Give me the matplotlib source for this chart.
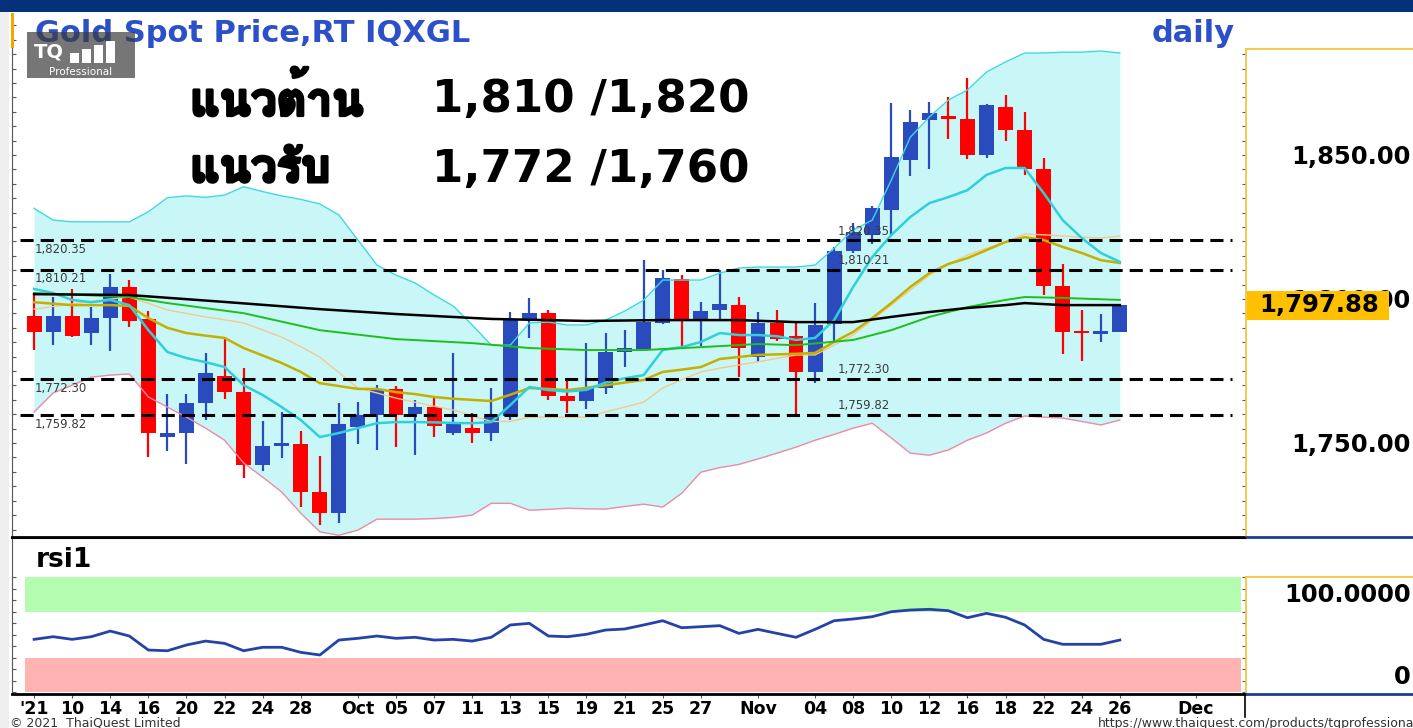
import numpy as np
import matplotlib
matplotlib.use("Agg")
import matplotlib.pyplot as plt
import matplotlib.patheffects as pe
from matplotlib import font_manager
from matplotlib.ft2font import FT2Font
from matplotlib.patches import Rectangle
from matplotlib.lines import Line2D

W, H = 1413, 728

# ---------- donnees (8 sep -> 26 nov 2021) ----------
opens = [1794.2, 1788.7, 1794.2, 1788.1, 1793.3, 1804.1, 1793.1, 1752.2, 1753.4, 1764.0,
         1773.4, 1767.8, 1742.4, 1749.2, 1749.7, 1733.1, 1725.9, 1755.7, 1759.7, 1768.8,
         1760.0, 1762.6, 1753.4, 1755.4, 1753.6, 1759.5, 1793.1, 1795.0, 1766.4, 1764.6,
         1769.2, 1781.7, 1782.6, 1791.6, 1806.8, 1792.7, 1796.2, 1797.9, 1780.0, 1791.8,
         1787.3, 1774.8, 1791.3, 1816.8, 1822.2, 1830.9, 1848.3, 1862.2, 1863.5, 1862.5,
         1850.0, 1866.6, 1858.7, 1845.0, 1804.5, 1788.9, 1788.1, 1788.4]
highs = [1802.0, 1800.6, 1803.6, 1797.3, 1808.6, 1806.6, 1796.0, 1767.2, 1766.9, 1781.4,
         1786.9, 1776.0, 1757.5, 1760.8, 1754.3, 1745.5, 1764.0, 1764.2, 1770.1, 1769.9,
         1764.9, 1766.3, 1781.1, 1760.5, 1769.0, 1795.6, 1800.2, 1796.2, 1771.9, 1784.8,
         1788.1, 1789.2, 1813.5, 1810.1, 1808.3, 1799.1, 1810.1, 1800.8, 1795.6, 1796.2,
         1792.1, 1798.5, 1817.9, 1826.3, 1832.4, 1868.2, 1865.6, 1868.4, 1870.0, 1876.9,
         1867.6, 1870.8, 1865.1, 1848.8, 1812.0, 1796.2, 1794.8, 1797.88]
lows = [1782.3, 1783.9, 1786.9, 1784.1, 1782.1, 1790.2, 1745.3, 1747.3, 1742.6, 1758.0,
        1765.2, 1738.0, 1740.4, 1744.7, 1727.7, 1721.5, 1722.1, 1749.7, 1747.6, 1748.5,
        1745.8, 1752.0, 1752.8, 1750.1, 1750.7, 1758.0, 1786.6, 1764.9, 1760.3, 1761.7,
        1766.9, 1776.5, 1782.6, 1791.3, 1782.5, 1783.7, 1792.7, 1772.8, 1778.2, 1785.5,
        1759.1, 1770.7, 1785.2, 1815.9, 1819.1, 1822.2, 1842.7, 1845.0, 1855.6, 1848.5,
        1848.8, 1855.0, 1843.1, 1801.4, 1780.9, 1778.6, 1785.2, 1788.4]
closes = [1788.7, 1794.2, 1787.3, 1793.4, 1804.1, 1792.5, 1753.4, 1753.4, 1764.0, 1774.2,
          1767.8, 1742.4, 1749.1, 1749.7, 1733.1, 1725.9, 1756.6, 1759.7, 1768.8, 1759.7,
          1762.6, 1756.0, 1756.6, 1753.6, 1759.5, 1792.7, 1795.3, 1766.4, 1764.6, 1769.2,
          1781.5, 1782.9, 1792.1, 1807.4, 1792.7, 1795.8, 1798.3, 1782.9, 1791.6, 1786.3,
          1774.8, 1791.0, 1816.8, 1823.4, 1831.5, 1849.2, 1861.5, 1864.7, 1862.6, 1850.0,
          1867.2, 1858.7, 1845.0, 1804.5, 1788.7, 1788.3, 1788.5, 1797.88]

bb_upper = [1831.5, 1827.4, 1826.8, 1826.8, 1826.8, 1826.8, 1830.3, 1835.2, 1835.8, 1835.3,
            1836.1, 1839.0, 1837.3, 1835.8, 1834.6, 1833.0, 1829.2, 1820.5, 1811.8, 1808.3,
            1805.6, 1801.4, 1797.6, 1791.0, 1784.0, 1784.0, 1791.7, 1792.0, 1791.0, 1791.0,
            1792.7, 1795.8, 1799.6, 1806.6, 1806.6, 1806.6, 1809.0, 1810.8, 1811.1, 1811.1,
            1811.1, 1811.8, 1817.7, 1823.9, 1827.4, 1841.3, 1856.2, 1863.2, 1869.1, 1872.6,
            1878.8, 1882.3, 1885.4, 1885.4, 1885.7, 1885.7, 1886.1, 1885.4]
bb_lower = [1760.8, 1767.4, 1770.1, 1772.9, 1773.6, 1774.0, 1766.0, 1762.5, 1759.0, 1755.2,
            1751.0, 1743.1, 1738.2, 1733.0, 1725.7, 1719.2, 1718.0, 1719.8, 1723.6, 1723.6,
            1723.6, 1723.8, 1724.2, 1725.0, 1729.1, 1729.1, 1726.7, 1727.0, 1727.4, 1727.2,
            1727.1, 1728.0, 1728.8, 1727.8, 1732.6, 1739.9, 1741.5, 1742.6, 1744.5, 1746.5,
            1748.6, 1751.0, 1753.0, 1755.2, 1756.9, 1751.8, 1746.5, 1745.8, 1747.6, 1751.0,
            1753.5, 1756.9, 1759.4, 1759.0, 1758.7, 1757.5, 1756.3, 1758.0]
ma_cyan = [1803.5, 1802.1, 1799.7, 1798.9, 1799.7, 1797.9, 1789.2, 1781.6, 1779.5, 1778.1,
           1776.4, 1770.1, 1766.7, 1762.5, 1758.0, 1752.1, 1753.5, 1755.2, 1756.9, 1757.3,
           1757.3, 1757.2, 1757.0, 1756.9, 1757.3, 1763.2, 1769.5, 1768.4, 1767.9, 1768.5,
           1771.0, 1772.5, 1773.6, 1782.3, 1783.3, 1785.1, 1788.2, 1787.5, 1787.5, 1787.1,
           1785.8, 1786.5, 1792.7, 1804.2, 1814.6, 1822.2, 1828.5, 1833.3, 1835.4, 1837.8,
           1843.1, 1845.5, 1845.5, 1836.8, 1827.4, 1821.2, 1816.0, 1812.9]
ma_olive = [1798.9, 1798.4, 1797.9, 1797.9, 1797.9, 1797.6, 1793.4, 1790.0, 1788.2, 1787.3,
            1786.5, 1783.0, 1780.4, 1777.8, 1774.7, 1770.8, 1769.8, 1768.8, 1768.8, 1767.7,
            1767.0, 1766.0, 1765.4, 1765.0, 1764.6, 1766.8, 1769.1, 1768.8, 1768.4, 1769.2,
            1770.1, 1771.0, 1771.9, 1774.7, 1775.5, 1776.4, 1779.2, 1779.9, 1780.6, 1780.8,
            1781.0, 1781.3, 1785.1, 1788.6, 1793.4, 1798.6, 1804.2, 1809.0, 1812.2, 1814.2,
            1817.0, 1819.8, 1821.5, 1820.5, 1818.1, 1816.0, 1813.5, 1812.5]
ma_orange = [1796.5, 1797.4, 1798.3, 1799.2, 1800.0, 1800.7, 1798.5, 1796.2, 1795.0, 1793.8,
             1792.8, 1791.7, 1789.3, 1786.8, 1783.5, 1779.8, 1774.5, 1769.1, 1767.4, 1765.6,
             1764.2, 1762.8, 1761.5, 1759.5, 1757.5, 1757.5, 1759.0, 1759.0, 1759.0, 1759.0,
             1760.8, 1762.5, 1764.2, 1769.1, 1772.0, 1774.7, 1776.0, 1777.1, 1778.2, 1779.4,
             1780.6, 1780.6, 1784.0, 1787.5, 1792.7, 1797.9, 1803.1, 1808.3, 1812.0, 1815.3,
             1817.6, 1819.8, 1822.6, 1822.3, 1821.9, 1821.5, 1821.2, 1821.9]
green_idx = [0, 5, 7, 11, 15, 19, 23, 26, 29, 32, 35, 38, 40, 43, 45, 47, 49, 51, 52, 54, 57]
green_val = [1802.1, 1800.7, 1798.6, 1795.1, 1789.2, 1786.1, 1784.7, 1783.0, 1782.3, 1782.3,
             1783.3, 1784.4, 1784.0, 1785.8, 1789.2, 1793.8, 1797.2, 1799.7, 1800.7, 1800.4, 1799.7]
black_idx = [0, 5, 10, 15, 19, 24, 29, 33, 37, 40, 43, 45, 47, 49, 51, 52, 54, 57]
black_val = [1801.7, 1801.4, 1799.0, 1796.5, 1794.8, 1793.1, 1792.4, 1792.7, 1792.7, 1792.0,
             1792.0, 1793.8, 1795.5, 1796.9, 1797.9, 1798.6, 1797.9, 1797.9]

rsi = [45.8, 48.1, 45.8, 48.1, 53.0, 48.7, 36.5, 35.9, 40.9, 44.3,
       42.3, 35.9, 38.9, 38.9, 34.5, 32.2, 45.2, 46.7, 48.7, 46.7,
       47.6, 45.2, 45.8, 44.3, 47.6, 58.3, 59.7, 48.7, 48.1, 50.2,
       53.9, 54.8, 58.3, 62.0, 55.9, 56.8, 57.7, 51.0, 54.5, 51.0,
       47.6, 54.5, 62.0, 63.5, 65.5, 69.8, 71.3, 71.9, 70.7, 64.6,
       68.4, 65.0, 58.3, 45.8, 41.5, 41.5, 41.5, 45.2]

levels = [1820.35, 1810.21, 1772.30, 1759.82]
tick_idx = [0, 2, 4, 6, 8, 10, 12, 14, 17, 19, 21, 23, 25, 27, 29, 31, 33, 35,
            38, 41, 43, 45, 47, 49, 51, 53, 55, 57, 61]
tick_lab = ["'21", "10", "14", "16", "20", "22", "24", "28", "Oct", "05", "07", "11",
            "13", "15", "19", "21", "25", "27", "Nov", "04", "08", "10", "12", "16",
            "18", "22", "24", "26", "Dec"]
price_labels = [1750, 1800, 1850]
rsi_zones = [(0, 30), (70, 100)]

BLUE = "#2a4bbd"
RED = "#ff0000"


def fbox(x0, y0, x1, y1):
    return [x0 / W, 1 - y1 / H, (x1 - x0) / W, (y1 - y0) / H]


def thai_family():
    # police qui contient les glyphes thai, de preference en gras
    found = []
    for f in font_manager.fontManager.ttflist:
        try:
            if 0x0E41 in FT2Font(f.fname).get_charmap():
                found.append(f)
        except Exception:
            continue
    if not found:
        return "DejaVu Sans"
    bold = [f for f in found if f.weight in ("bold", 700, 800, 900) or
            (isinstance(f.weight, int) and f.weight >= 600)]
    return (bold or found)[0].name


THAI = thai_family()

fig = plt.figure(figsize=(W / 100, H / 100), dpi=100)
fig.patch.set_facecolor("white")

# ---------- panneau prix ----------
ax = fig.add_axes(fbox(12, 13, 1245, 537))
ax.set_xlim(-1.16, 63.57)
ax.set_ylim(1717.4, 1899.3)
for s in ["top", "right"]:
    ax.spines[s].set_visible(False)
ax.spines["left"].set_color("#555555")
ax.spines["bottom"].set_linewidth(2)
ax.set_xticks([])
ax.set_yticks(np.arange(1720, 1900, 5))
ax.tick_params(axis="y", direction="in", length=3, color="#555555", labelleft=False)

idx = np.arange(len(closes))
o = np.array(opens)
c = np.array(closes)
up = c >= o
cols = np.where(up, BLUE, RED)

ax.fill_between(idx, bb_lower, bb_upper, color="#c9f7f8", lw=0, zorder=1)
ax.vlines(idx, lows, highs, colors=cols, lw=1.6, zorder=3)
h = np.abs(c - o)
hb = np.maximum(h, 0.9)
ax.bar(idx, hb, bottom=np.minimum(o, c) - (hb - h) / 2, width=0.78, color=cols, lw=0, zorder=4)

ax.plot(idx, bb_upper, color="#3fd8e0", lw=1, zorder=5)
ax.plot(idx, bb_lower, color="#ef8aa5", lw=1, zorder=5)
ax.plot(idx, ma_orange, color="#f5c88c", lw=1, zorder=6)
ax.plot(idx, ma_olive, color="#c4b000", lw=1.8, zorder=6)
ax.plot(idx, ma_cyan, color="#2fd0da", lw=1.8, zorder=6)
ax.plot(green_idx, green_val, color="#1cbf1c", lw=1.4, zorder=6)
ax.plot(black_idx, black_val, color="black", lw=1.8, zorder=6)

ax.hlines(levels, -0.73, 62.9, colors="black", lw=2.2, linestyles=(0, (4.3, 2.3)), zorder=7)
for lv in levels:
    ax.annotate(f"{lv:,.2f}", (0.05, lv), xytext=(0, -2), textcoords="offset points",
                ha="left", va="top", fontsize=8.5, color="#3a3a3a", zorder=8)
    ax.annotate(f"{lv:,.2f}", (42.2, lv), xytext=(0, 2), textcoords="offset points",
                ha="left", va="bottom", fontsize=8.5, color="#3a3a3a", zorder=8)

# ---------- axe des prix a droite ----------
ax_p = fig.add_axes(fbox(1246, 49, 1413, 537))
ax_p.set_xlim(0, 1)
ax_p.set_ylim(1717.36, 1886.81)
ax_p.spines["right"].set_visible(False)
for s in ["left", "top"]:
    ax_p.spines[s].set_color("#f5c542")
    ax_p.spines[s].set_linewidth(1.3)
ax_p.spines["bottom"].set_color("#1d3c9c")
ax_p.spines["bottom"].set_linewidth(2)
ax_p.set_xticks([])
ax_p.set_yticks(np.arange(1720, 1890, 5))
ax_p.tick_params(axis="y", direction="out", length=3, color="#555555", labelleft=False)
for v in price_labels:
    ax_p.text(0.985, v - 0.7, f"{v:,.2f}", ha="right", va="center", fontsize=17.5,
              fontweight="bold", zorder=3)
last = closes[-1]
ax_p.add_patch(Rectangle((0.006, last - 5.0), 0.85, 10.0, facecolor="#ffc000",
                         edgecolor="none", zorder=5))
ax_p.text(0.437, last, f"{last:,.2f}", ha="center", va="center", fontsize=17.5,
          fontweight="bold", zorder=6)

# ---------- panneau RSI ----------
ax_r = fig.add_axes(fbox(12, 538, 1245, 694))
ax_r.set_xlim(-1.16, 63.57)
ax_r.set_ylim(-1.7, 133.9)
ax_r.spines["right"].set_visible(False)
ax_r.spines["left"].set_color("#555555")
ax_r.spines["top"].set_linewidth(1.5)
ax_r.spines["bottom"].set_linewidth(2)
ax_r.set_yticks(np.arange(0, 101, 10))
ax_r.tick_params(axis="y", direction="in", length=3, color="#555555", labelleft=False)
for lo, hi in rsi_zones:
    ax_r.fill_between([-0.47, 63.34], lo, hi, color="#b3fcb0" if lo >= 50 else "#ffb3b3",
                      lw=0, zorder=1)
ax_r.plot(idx, rsi, color="#2443a6", lw=2, zorder=3)
ax_r.set_xticks(tick_idx)
ax_r.set_xticklabels(tick_lab, fontsize=12.5, fontweight="bold")
ax_r.tick_params(axis="x", direction="out", length=3, pad=1.5, color="#555555")
ax_r.text(0.019, 0.86, "rsi1", transform=ax_r.transAxes, fontsize=19, fontweight="bold",
          ha="left", va="center")

ax_rr = fig.add_axes(fbox(1246, 577, 1413, 694))
ax_rr.set_xlim(0, 1)
ax_rr.set_ylim(-1.7, 100)
ax_rr.spines["right"].set_visible(False)
for s in ["left", "top"]:
    ax_rr.spines[s].set_color("#f5c542")
    ax_rr.spines[s].set_linewidth(1.3)
ax_rr.spines["bottom"].set_color("#1d3c9c")
ax_rr.spines["bottom"].set_linewidth(2)
ax_rr.set_xticks([])
ax_rr.set_yticks(np.arange(0, 101, 10))
ax_rr.tick_params(axis="y", direction="out", length=3, color="#555555", labelleft=False)
ax_rr.annotate("100.0000", (0.985, 100), xytext=(0, -4), textcoords="offset points",
               ha="right", va="top", fontsize=17.5, fontweight="bold")
ax_rr.annotate("0", (0.985, 0), xytext=(0, 2), textcoords="offset points",
               ha="right", va="bottom", fontsize=17.5, fontweight="bold")

# ---------- habillage ----------
fig.patches.append(Rectangle((0, 1 - 12 / H), 1, 12 / H, transform=fig.transFigure,
                             facecolor="#05307a", edgecolor="none", zorder=0))
fig.patches.append(Rectangle((0, 0), 9 / W, 1 - 12 / H, transform=fig.transFigure,
                             facecolor="#efefef", edgecolor="none", zorder=0))
fig.patches.append(Rectangle((11 / W, 1 - 48 / H), 3 / W, 35 / H, transform=fig.transFigure,
                             facecolor="#f7a600", edgecolor="none", zorder=2))
fig.add_artist(Line2D([1245 / W, 1245 / W], [1 - 694 / H, 1 - 717 / H], color="black", lw=1.2))

fig.text(35 / W, 1 - 33 / H, "Gold Spot Price,RT IQXGL", fontsize=22, fontweight="bold",
         color="#2c50c8", ha="left", va="center", zorder=3)
fig.text(1235 / W, 1 - 33 / H, "daily", fontsize=22, fontweight="bold",
         color="#2c50c8", ha="right", va="center", zorder=3)

# logo TQ
fig.patches.append(Rectangle((27 / W, 1 - 78 / H), 108 / W, 46 / H, transform=fig.transFigure,
                             facecolor="#3c3c3c", alpha=0.7, edgecolor="none", zorder=4))
fig.text(34 / W, 1 - 52 / H, "TQ", fontsize=14, fontweight="bold", color="white",
         ha="left", va="center", zorder=5)
for bx, bh in [(70, 10), (82, 14), (94, 18), (106, 22)]:
    fig.patches.append(Rectangle((bx / W, 1 - 63 / H), 9 / W, bh / H, transform=fig.transFigure,
                                 facecolor="white", edgecolor="none", zorder=5))
fig.text(81 / W, 1 - 72 / H, "Professional", fontsize=7.5, color="white",
         ha="center", va="center", zorder=5)

# niveaux (texte thai) - trait epaissi pour le gras
thick = [pe.withStroke(linewidth=2.2, foreground="black")]
fig.text(190 / W, 1 - 99 / H, "แนวต้าน", fontsize=33, fontweight="bold",
         family=[THAI, "DejaVu Sans"], ha="left", va="center", zorder=3, path_effects=thick)
fig.text(190 / W, 1 - 170 / H, "แนวรับ", fontsize=33, fontweight="bold",
         family=[THAI, "DejaVu Sans"], ha="left", va="center", zorder=3, path_effects=thick)
fig.text(432 / W, 1 - 99 / H, "1,810 /1,820", fontsize=32.5, fontweight="bold",
         ha="left", va="center", zorder=3)
fig.text(432 / W, 1 - 170 / H, "1,772 /1,760", fontsize=32.5, fontweight="bold",
         ha="left", va="center", zorder=3)

fig.text(10 / W, 1 - 723 / H, "© 2021  ThaiQuest Limited", fontsize=9, color="#333333",
         ha="left", va="center")
fig.text(1098 / W, 1 - 724 / H, "https://www.thaiquest.com/products/tqprofessional/",
         fontsize=9, color="#333333", ha="left", va="center")

fig.savefig("out.png", dpi=100)
